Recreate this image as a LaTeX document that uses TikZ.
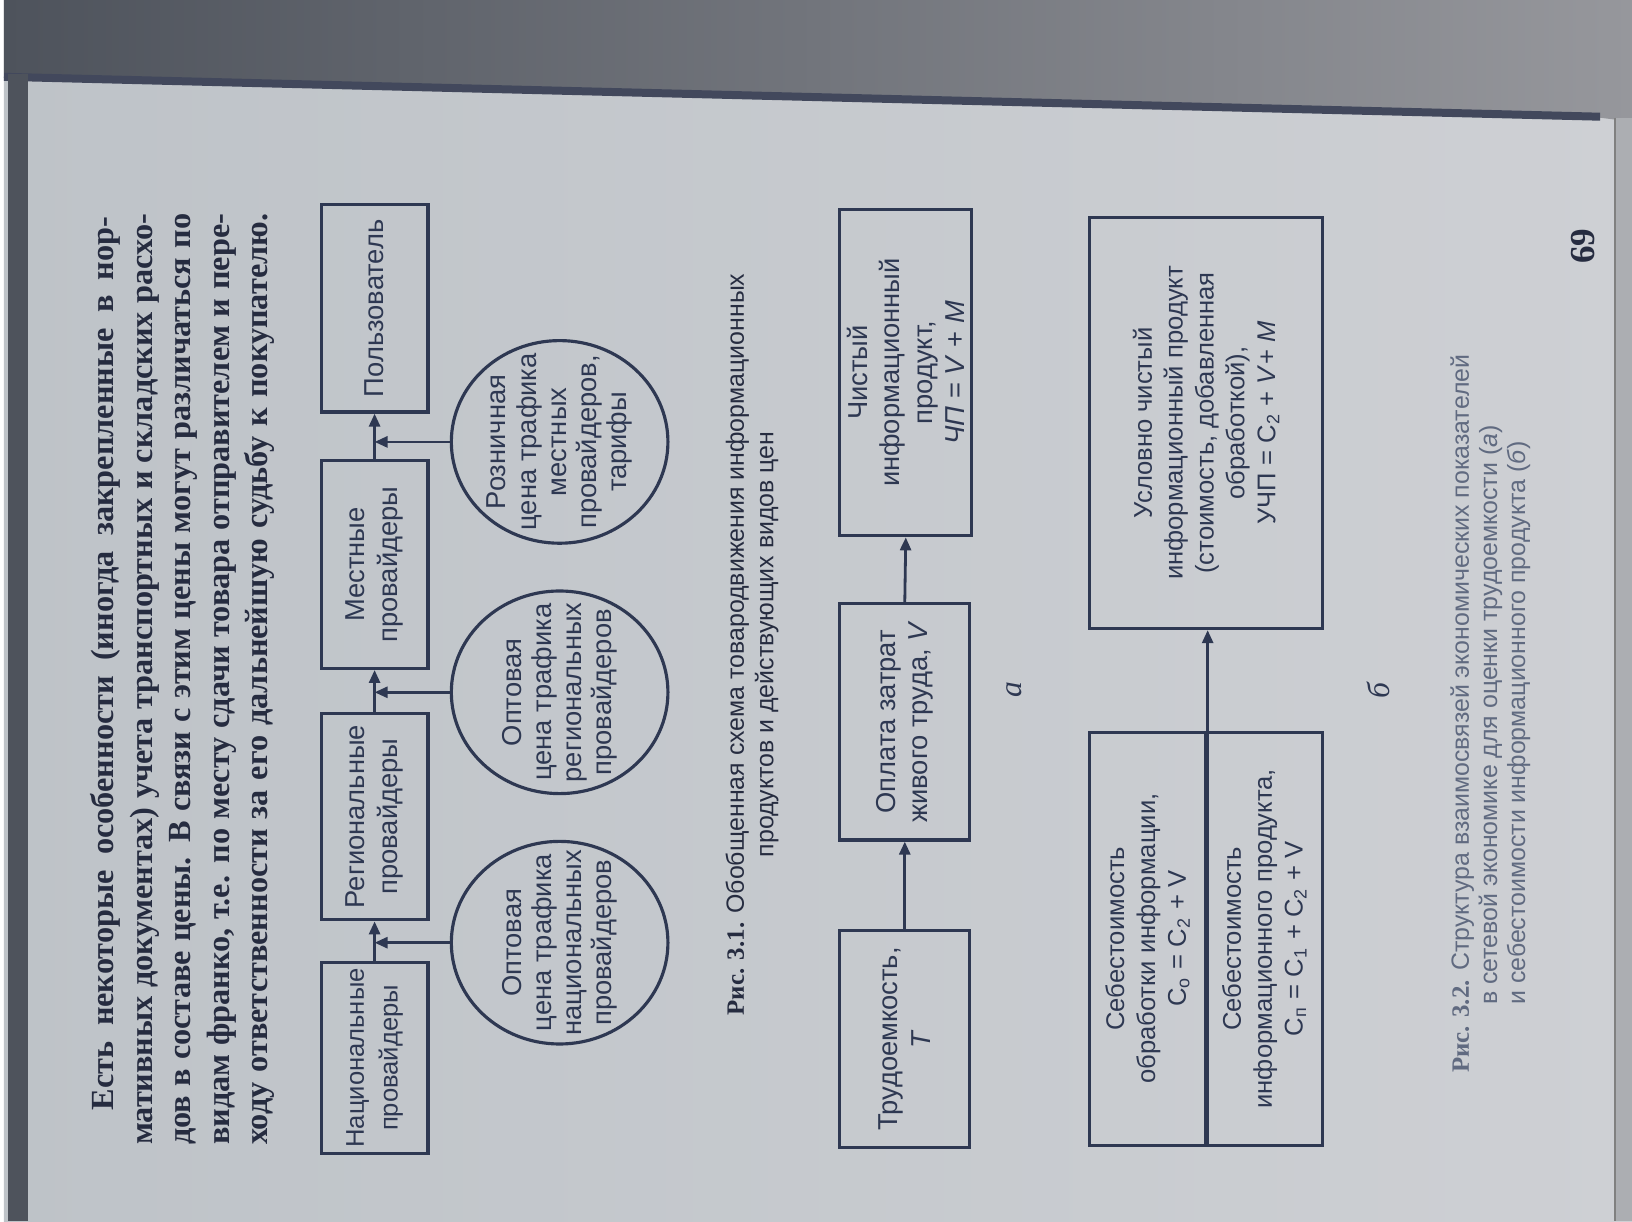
\documentclass[tikz,border=0pt]{standalone}
\usepackage{fontspec}
\setmainfont{Liberation Serif}
\setsansfont{Liberation Sans}
\usetikzlibrary{shapes.geometric,arrows.meta}

\definecolor{pageL}{RGB}{190,195,200}
\definecolor{pageR}{RGB}{206,208,212}
\definecolor{ink}{RGB}{46,56,82}
\definecolor{textink}{RGB}{38,44,64}
\definecolor{faintink}{RGB}{96,106,128}
\definecolor{edgecol}{RGB}{66,72,92}
\definecolor{shadowL}{RGB}{78,83,92}
\definecolor{shadowR}{RGB}{150,151,156}
\definecolor{rimcol}{RGB}{172,174,178}

\begin{document}
\begin{tikzpicture}[x=0.01cm, y=-0.01cm,
    box/.style={draw=ink, line width=0.9pt, rotate=90, inner sep=0pt, align=center, text=ink, font=\sffamily\fontsize{7.8}{9.6}\selectfont},
    lbox/.style={box, font=\sffamily\fontsize{7.8}{9.3}\selectfont},
    bbox/.style={box, font=\sffamily\fontsize{7.3}{8.8}\selectfont},
    disc/.style={ellipse, draw=ink, line width=0.9pt, rotate=90, inner sep=-5mm, align=center, text=ink, minimum width=2.03cm, minimum height=2.17cm, font=\sffamily\fontsize{7.8}{8.6}\selectfont},
    arr/.style={draw=ink, line width=0.8pt, -{Triangle[length=1.3mm,width=1.1mm]}},
    tag/.style={rotate=90, inner sep=0pt, text=ink, font=\itshape\fontsize{9}{10}\selectfont}
]
    % page and its edges
    \shade[left color=pageL, right color=pageR] (0,0) rectangle (1632,1224);
    \shade[left color=shadowL, right color=shadowR] (0,0) -- (1632,0) -- (1632,122) -- (1600,118) -- (0,78) -- cycle;
    \draw[edgecol, line width=0.08cm] (0,77) -- (1600,117);
    \fill[shadowL] (4,74) rectangle (24,1224);
    \fill[rimcol] (1615,118) rectangle (1632,1224);
    \draw[gray, line width=0.02cm] (1615,118) -- (1615,1224);
    \useasboundingbox (0,0) rectangle (1632,1224);

    % text of the page
    \node[rotate=90, inner sep=0pt, align=left, text=textink, font=\bfseries\fontsize{9.2}{11}\selectfont] (para) at (179,681)
        {\hspace*{0.35cm}\makebox[8.95cm][s]{Есть некоторые особенности (иногда закрепленные в нор-}\\
         \makebox[9.33cm][s]{мативных документах) учета транспортных и складских расхо-}\\
         \makebox[9.33cm][s]{дов в составе цены. В связи с этим цены могут различаться по}\\
         \makebox[9.33cm][s]{видам франко, т.е. по месту сдачи товара отправителем и пере-}\\
         \makebox[9.33cm][s]{ходу ответственности за его дальнейшую судьбу к покупателю.}};

    % fig. 3.1
    \node[box, minimum width=1.91cm, minimum height=1.07cm, font=\sffamily\fontsize{7.3}{9.6}\selectfont] (nat) at (371.5,1060.5) {Национальные\\провайдеры};
    \node[box, minimum width=2.07cm, minimum height=1.07cm] (reg) at (371.5,818.5) {Региональные\\провайдеры};
    \node[box, minimum width=2.08cm, minimum height=1.07cm] (loc) at (371.5,566) {Местные\\провайдеры};
    \node[box, minimum width=2.08cm, minimum height=1.07cm] (usr) at (371.5,309) {Пользователь};

    \node[disc] (c1) at (557,945) {Оптовая\\цена трафика\\национальных\\провайдеров};
    \node[disc] (c2) at (557,694) {Оптовая\\цена трафика\\региональных\\провайдеров};
    \node[disc] (c3) at (557,443) {Розничная\\цена трафика\\местных\\провайдеров,\\тарифы};

    \draw[arr] (nat.east) -- (reg.west);
    \draw[arr] (reg.east) -- (loc.west);
    \draw[arr] (loc.east) -- (usr.west);
    \draw[arr] (c1.north) -- (c1.north -| nat.center);
    \draw[arr] (c2.north) -- (c2.north -| reg.center);
    \draw[arr] (c3.north) -- (c3.north -| loc.center);

    \node[rotate=90, inner sep=0pt, align=center, text=textink, font=\sffamily\fontsize{7.1}{8.4}\selectfont] (cap1) at (750,646)
        {{\rmfamily\bfseries Рис. 3.1.} Обобщенная схема товародвижения информационных\\продуктов и действующих видов цен};

    % fig. 3.2 a
    \node[lbox, minimum width=2.17cm, minimum height=1.30cm] (tru) at (903,1041.5) {Трудоемкость,\\\textit{T}};
    \node[lbox, minimum width=2.37cm, minimum height=1.30cm] (opl) at (903,723.5) {Оплата затрат\\живого труда, \textit{V}};
    \node[lbox, minimum width=3.27cm, minimum height=1.32cm] (chp) at (904,373.5) {Чистый\\информационный\\продукт,\\\textit{ЧП} = \textit{V} + \textit{M}};

    \draw[arr] (tru.east) -- (opl.west);
    \draw[arr] (opl.east) -- (chp.west);

    \node[tag] (taga) at (1013,691) {а};

    % fig. 3.2 b
    \node[bbox, minimum width=4.12cm, minimum height=2.34cm] (usl) at (1205,424) {Условно чистый\\информационный продукт\\(стоимость, добавленная\\обработкой),\\УЧП = C\textsubscript{2} + \textit{V}+ \textit{M}};
    \node[bbox, minimum width=4.14cm, minimum height=1.17cm] (coo) at (1146.5,941) {Себестоимость\\обработки информации,\\C\textsubscript{о} = C\textsubscript{2} + V};
    \node[bbox, minimum width=4.14cm, minimum height=1.17cm] (cip) at (1263.5,941) {Себестоимость\\информационного продукта,\\C\textsubscript{п} = C\textsubscript{1} + C\textsubscript{2} + V};

    \draw[arr] (coo.south west) -- (coo.south west |- usl.west);

    \node[tag] (tagb) at (1378,692) {б};

    \node[rotate=90, anchor=west, inner sep=0pt, align=left, text=faintink, font=\sffamily\fontsize{7.1}{8}\selectfont] (cap2) at (1490,1076)
        {{\rmfamily\bfseries Рис. 3.2.} Структура взаимосвязей экономических показателей\\
         \hspace*{0.68cm}в сетевой экономике для оценки трудоемкости (\textit{а})\\
         \hspace*{0.68cm}и себестоимости информационного продукта (\textit{б})};

    \node[rotate=90, inner sep=0pt, text=textink, font=\bfseries\fontsize{10}{11}\selectfont] (pagenum) at (1583,247) {69};
\end{tikzpicture}
\end{document}
